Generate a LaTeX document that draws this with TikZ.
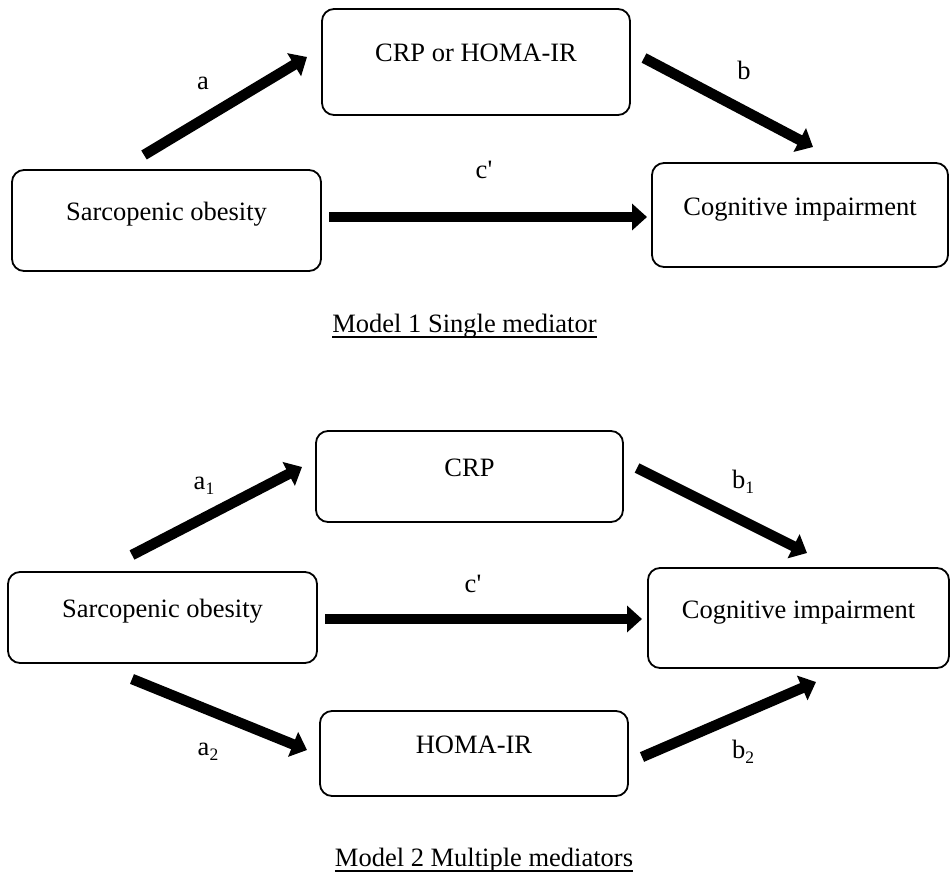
\documentclass[tikz,border=0pt]{standalone}
\usepackage{fontspec}
\setmainfont{Liberation Serif}
\usetikzlibrary{arrows.meta}
\newcommand{\mysub}[1]{\raisebox{-5pt}{\fontsize{17.5}{20}\selectfont #1}}
\begin{document}
\begin{tikzpicture}[x=1pt,y=-1pt,
  font=\fontsize{26.5}{30}\selectfont,
  box/.style={draw, line width=1.8pt, rounded corners=12pt, inner sep=0pt, text height=9pt, text depth=9pt},
  fatarrow/.style={line width=10.5pt, -{Triangle[width=26pt,length=15pt]}},
  lbl/.style={anchor=base, inner sep=0pt},
  uline/.style={line width=1.3pt},
]
\useasboundingbox (0,0) rectangle (951,875);
% ---------- Model 1 ----------
\node[box, minimum width=309pt, minimum height=101pt] (so1) at (166.5,220.5) {Sarcopenic obesity};
\node[box, minimum width=308pt, minimum height=106pt] (m1) at (476,62) {CRP or HOMA-IR};
\node[box, minimum width=296pt, minimum height=104pt] (ci1) at (800,215) {Cognitive impairment};
\coordinate (aS) at (144,155);  \coordinate (aE) at (307,57);
\coordinate (bS) at (644,58);   \coordinate (bE) at (813,147);
\coordinate (cS) at (329,217);  \coordinate (cE) at (647,217);
\draw[fatarrow] (aS) -- (aE);
\draw[fatarrow] (bS) -- (bE);
\draw[fatarrow] (cS) -- (cE);
\node[lbl] (la) at (203,89) {a};
\node[lbl] (lb) at (744,80) {b};
\node[lbl] (lc) at (484,178) {c\textquotesingle};
\node[lbl] (cap1) at (464.5,332) {Model 1 Single mediator};
\draw[uline] ([yshift=-5pt]cap1.base west) -- ([yshift=-5pt]cap1.base east);
% ---------- Model 2 ----------
\node[box, minimum width=309pt, minimum height=91pt] (so2) at (162.5,617.5) {Sarcopenic obesity};
\node[box, minimum width=307pt, minimum height=91pt] (crp) at (469.5,476.5) {CRP};
\node[box, minimum width=308pt, minimum height=85pt] (homa) at (474,753.5) {HOMA-IR};
\node[box, minimum width=301pt, minimum height=100pt] (ci2) at (798.5,618) {Cognitive impairment};
\coordinate (a1S) at (132,555); \coordinate (a1E) at (302,467);
\coordinate (a2S) at (132,679); \coordinate (a2E) at (307,750);
\coordinate (c2S) at (325,619); \coordinate (c2E) at (642,619);
\coordinate (b1S) at (637,468); \coordinate (b1E) at (807,553);
\coordinate (b2S) at (642,757); \coordinate (b2E) at (816,682);
\draw[fatarrow] (a1S) -- (a1E);
\draw[fatarrow] (a2S) -- (a2E);
\draw[fatarrow] (c2S) -- (c2E);
\draw[fatarrow] (b1S) -- (b1E);
\draw[fatarrow] (b2S) -- (b2E);
\node[lbl] (la1) at (204,489) {a\mysub{1}};
\node[lbl] (la2) at (208,755) {a\mysub{2}};
\node[lbl] (lc2) at (473,592) {c\textquotesingle};
\node[lbl] (lb1) at (743,488) {b\mysub{1}};
\node[lbl] (lb2) at (743,758) {b\mysub{2}};
\node[lbl] (cap2) at (484,866) {Model 2 Multiple mediators};
\draw[uline] ([yshift=-5pt]cap2.base west) -- ([yshift=-5pt]cap2.base east);
\end{tikzpicture}
\end{document}
